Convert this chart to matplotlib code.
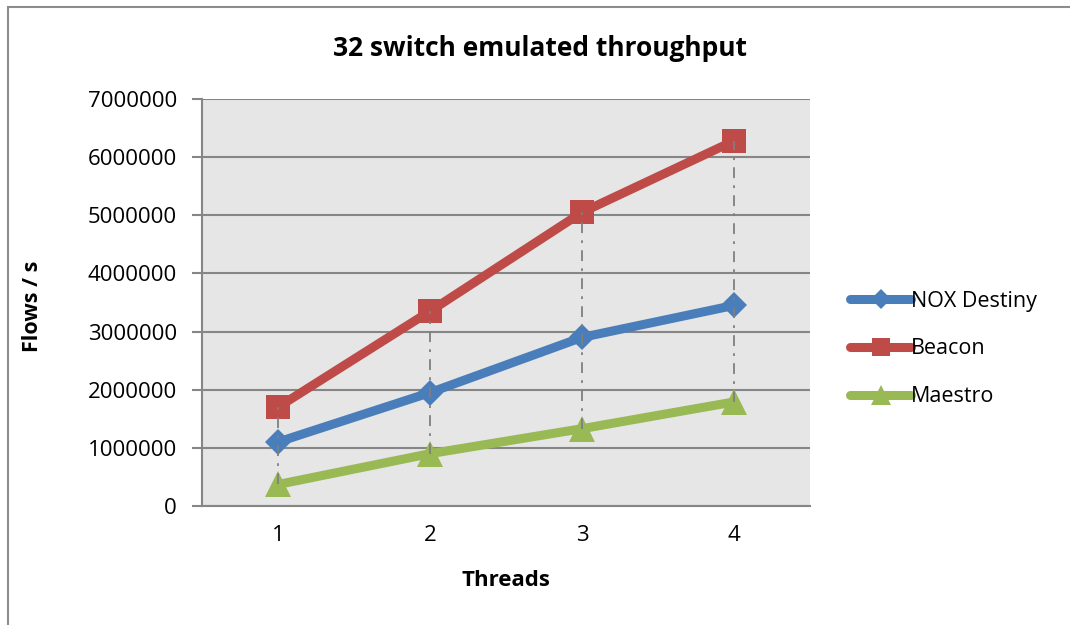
import matplotlib
matplotlib.use("Agg")
import matplotlib.pyplot as plt
from matplotlib.lines import Line2D
from matplotlib.patches import Rectangle

# Data
threads = [1, 2, 3, 4]
nox_destiny = [1100000, 1950000, 2900000, 3450000]
beacon = [1700000, 3350000, 5050000, 6280000]
maestro = [370000, 900000, 1330000, 1790000]
series_names = ["NOX Destiny", "Beacon", "Maestro"]
y_ticks = [0, 1000000, 2000000, 3000000, 4000000, 5000000, 6000000, 7000000]

plt.rcParams['font.family'] = ['Open Sans', 'DejaVu Sans']

fig = plt.figure(figsize=(10.7, 6.25), dpi=100)
fig.patch.set_facecolor("white")

# Outer chart frame
fig.add_artist(Rectangle((8 / 1070, -0.1), 1.2, (625 - 7) / 625 + 0.1,
                         transform=fig.transFigure, fill=False,
                         edgecolor="#8c8c8c", linewidth=1.5))

ax = fig.add_axes([202 / 1070, (625 - 506) / 625, 608 / 1070, 407 / 625])
ax.set_facecolor("#e6e6e6")

colors = ["#4a7ebb", "#be4b48", "#98b954"]
markers = ["D", "s", "^"]
msizes = [13.5, 17.5, 18.5]
all_series = [nox_destiny, beacon, maestro]

# High-low lines between the top and bottom series at each thread count
for i, t in enumerate(threads):
    vals = [s[i] for s in all_series]
    ax.plot([t, t], [min(vals), max(vals)], color="#7f7f7f", lw=1.3,
            dashes=[6, 4, 1.5, 4], zorder=5)

for s, name, c, m, ms in zip(all_series, series_names, colors, markers, msizes):
    ax.plot(threads, s, color=c, lw=6.5, marker=m, markersize=ms,
            markeredgewidth=0, solid_capstyle="round", label=name, zorder=3)

ax.set_xlim(0.5, 4.5)
ax.set_ylim(0, 7000000)
ax.set_yticks(y_ticks)
ax.set_yticklabels([str(v) for v in y_ticks])
ax.set_xticks(threads)
ax.set_xticklabels([str(t) for t in threads])
ax.yaxis.grid(True, color="#868686", lw=1.5)
ax.set_axisbelow(True)

for side in ["top", "right"]:
    ax.spines[side].set_visible(False)
for side in ["left", "bottom"]:
    ax.spines[side].set_color("#868686")
    ax.spines[side].set_linewidth(1.5)
ax.spines["bottom"].set_zorder(2)

ax.tick_params(axis="y", length=7, width=1.5, color="#868686",
               labelsize=16, pad=11)
ax.tick_params(axis="x", length=0, labelsize=16, pad=14)

fig.text(540 / 1070, 1 - 48 / 625, "32 switch emulated throughput",
         fontsize=19, fontweight="bold", ha="center", va="center")
ax.set_xlabel("Threads", fontsize=16, fontweight="bold", va="center")
ax.xaxis.set_label_coords(0.5, (506 - 580) / 407)
ax.set_ylabel("Flows / s", fontsize=15.5, fontweight="bold", va="center")
ax.yaxis.set_label_coords((33 - 202) / 608, (506 - 306) / 407)

handles = [Line2D([0], [0], color=c, lw=6.5, marker=m, markersize=ms * 0.75,
                  markeredgewidth=0, solid_capstyle="round")
           for c, m, ms in zip(colors, markers, msizes)]
fig.legend(handles, series_names, loc="center left",
           bbox_to_anchor=(831 / 1070, 1 - 349 / 625), frameon=False,
           fontsize=15.5, handlelength=2.8, handletextpad=0.02,
           labelspacing=1.25)

fig.savefig("out.png", dpi=100, facecolor="white")
